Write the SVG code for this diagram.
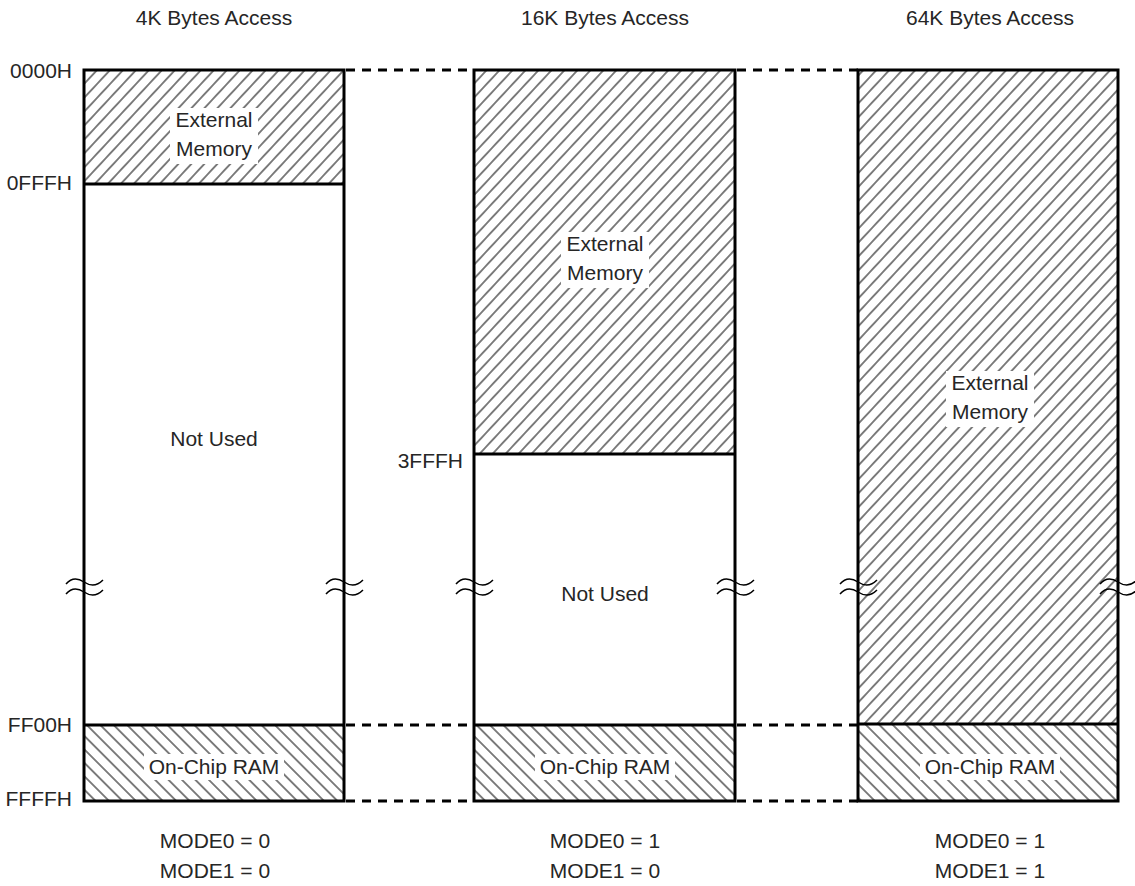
<svg xmlns="http://www.w3.org/2000/svg" width="1135" height="886" viewBox="0 0 1135 886">
<style>
  text { font-family: "Liberation Sans", Arial, sans-serif; font-size: 21px; fill: #262626; }
  .c { text-anchor: middle; }
  .r { text-anchor: end; }
  .box { fill: none; stroke: #000; stroke-width: 3; }
  .div { stroke: #000; stroke-width: 3; }
  .dash { stroke: #000; stroke-width: 3; stroke-dasharray: 9 7; fill: none; }
  .brk { fill: none; stroke: #000; stroke-width: 1.5; }
  .bg { fill: #fff; }
</style>
<defs>
  <pattern id="hatchF" patternUnits="userSpaceOnUse" width="9.5" height="20" patternTransform="rotate(43)">
    <line x1="4.75" y1="0" x2="4.75" y2="20" stroke="#000" stroke-width="1"/>
  </pattern>
  <pattern id="hatchB" patternUnits="userSpaceOnUse" width="9.5" height="20" patternTransform="rotate(-45)">
    <line x1="4.75" y1="0" x2="4.75" y2="20" stroke="#000" stroke-width="1"/>
  </pattern>
  <path id="wave" d="M -18,2 C -12,-5 -6,-4 0,0 C 6,4 12,5 19,-2"/>
</defs>

<!-- Titles -->
<text class="c" x="214" y="25">4K Bytes Access</text>
<text class="c" x="605" y="25">16K Bytes Access</text>
<text class="c" x="990" y="25">64K Bytes Access</text>

<!-- Address labels -->
<text class="r" x="72" y="78">0000H</text>
<text class="r" x="72" y="190">0FFFH</text>
<text class="r" x="72" y="732">FF00H</text>
<text class="r" x="72" y="806">FFFFH</text>
<text class="r" x="463" y="468">3FFFH</text>

<!-- Column 1 -->
<g id="col1-external">
  <rect x="84" y="70" width="260" height="114" fill="url(#hatchF)"/>
  <rect class="bg" x="170" y="108" width="88" height="56"/>
  <text class="c" x="214" y="127">External</text>
  <text class="c" x="214" y="156">Memory</text>
</g>
<g id="col1-notused">
  <text class="c" x="214" y="446">Not Used</text>
</g>
<g id="col1-onchip">
  <rect x="84" y="725" width="260" height="76" fill="url(#hatchB)"/>
  <rect class="bg" x="144" y="754" width="140" height="26"/>
  <text class="c" x="214" y="774">On-Chip RAM</text>
</g>
<g id="col1-frame">
  <rect class="box" x="84" y="70" width="260" height="731"/>
  <line class="div" x1="84" y1="184" x2="344" y2="184"/>
  <line class="div" x1="84" y1="725" x2="344" y2="725"/>
</g>

<!-- Column 2 -->
<g id="col2-external">
  <rect x="474" y="70" width="261" height="384" fill="url(#hatchF)"/>
  <rect class="bg" x="561" y="232" width="88" height="56"/>
  <text class="c" x="605" y="251">External</text>
  <text class="c" x="605" y="280">Memory</text>
</g>
<g id="col2-notused">
  <text class="c" x="605" y="601">Not Used</text>
</g>
<g id="col2-onchip">
  <rect x="474" y="725" width="261" height="76" fill="url(#hatchB)"/>
  <rect class="bg" x="535" y="754" width="140" height="26"/>
  <text class="c" x="605" y="774">On-Chip RAM</text>
</g>
<g id="col2-frame">
  <rect class="box" x="474" y="70" width="261" height="731"/>
  <line class="div" x1="474" y1="454" x2="735" y2="454"/>
  <line class="div" x1="474" y1="725" x2="735" y2="725"/>
</g>

<!-- Column 3 -->
<g id="col3-external">
  <rect x="858" y="70" width="260" height="654" fill="url(#hatchF)"/>
  <rect class="bg" x="946" y="371" width="88" height="56"/>
  <text class="c" x="990" y="390">External</text>
  <text class="c" x="990" y="419">Memory</text>
</g>
<g id="col3-onchip">
  <rect x="858" y="724" width="260" height="77" fill="url(#hatchB)"/>
  <rect class="bg" x="920" y="754" width="140" height="26"/>
  <text class="c" x="990" y="774">On-Chip RAM</text>
</g>
<g id="col3-frame">
  <rect class="box" x="858" y="70" width="260" height="731"/>
  <line class="div" x1="858" y1="724" x2="1118" y2="724"/>
</g>

<!-- Connectors (dashed boundary lines) -->
<g id="connectors">
  <line class="dash" x1="346" y1="70" x2="474" y2="70"/>
  <line class="dash" x1="346" y1="725" x2="474" y2="725"/>
  <line class="dash" x1="346" y1="801" x2="474" y2="801"/>
  <line class="dash" x1="737" y1="70" x2="858" y2="70"/>
  <line class="dash" x1="737" y1="725" x2="858" y2="725"/>
  <line class="dash" x1="737" y1="801" x2="858" y2="801"/>
</g>

<!-- Break marks -->
<g id="breaks">
  <use href="#wave" class="brk" x="84" y="582"/>
  <use href="#wave" class="brk" x="84" y="592"/>
  <use href="#wave" class="brk" x="344" y="582"/>
  <use href="#wave" class="brk" x="344" y="592"/>
  <use href="#wave" class="brk" x="474" y="582"/>
  <use href="#wave" class="brk" x="474" y="592"/>
  <use href="#wave" class="brk" x="735" y="582"/>
  <use href="#wave" class="brk" x="735" y="592"/>
  <use href="#wave" class="brk" x="858" y="582"/>
  <use href="#wave" class="brk" x="858" y="592"/>
  <use href="#wave" class="brk" x="1118" y="582"/>
  <use href="#wave" class="brk" x="1118" y="592"/>
</g>

<!-- Mode settings -->
<text class="c" x="215" y="848">MODE0 = 0</text>
<text class="c" x="215" y="878">MODE1 = 0</text>
<text class="c" x="605" y="848">MODE0 = 1</text>
<text class="c" x="605" y="878">MODE1 = 0</text>
<text class="c" x="990" y="848">MODE0 = 1</text>
<text class="c" x="990" y="878">MODE1 = 1</text>
</svg>
